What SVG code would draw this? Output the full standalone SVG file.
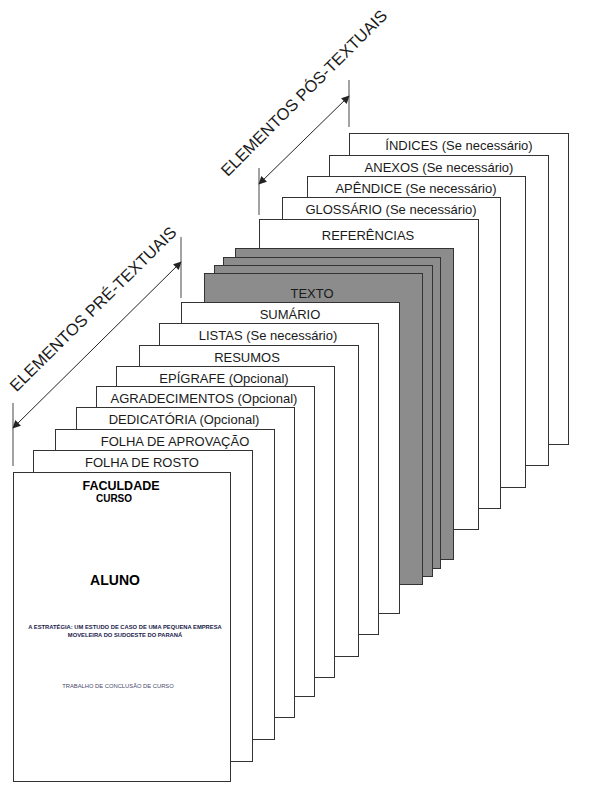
<svg xmlns="http://www.w3.org/2000/svg" width="604" height="793" viewBox="0 0 604 793">
<defs>
<style>
.pg{fill:#fff;stroke:#333;stroke-width:1}
.gr{fill:#8c8c8c;stroke:#333;stroke-width:1}
.lb{font-family:"Liberation Sans",Arial,sans-serif;font-size:13px;fill:#1a1a1a;text-anchor:middle}
.tk{stroke:#666;stroke-width:1.2;fill:none}
.ar{stroke:#222;stroke-width:1;fill:none;marker-start:url(#ah);marker-end:url(#ah)}
.big{font-family:"Liberation Sans",Arial,sans-serif;font-size:16.5px;fill:#1a1a1a;text-anchor:middle}
.ft{font-family:"Liberation Sans",Arial,sans-serif;font-weight:bold;fill:#000;text-anchor:middle}
</style>
<marker id="ah" viewBox="0 0 10 10" refX="9" refY="5" markerWidth="10" markerHeight="8" orient="auto-start-reverse" markerUnits="userSpaceOnUse"><path d="M0,0 L10,5 L0,10 z" fill="#222"/></marker>
</defs>
<g id="indices"><rect class="pg" x="349.5" y="133.5" width="219" height="311"/><text class="lb" x="459" y="150">ÍNDICES (Se necessário)</text></g>
<g id="anexos"><rect class="pg" x="329.5" y="155.5" width="219" height="310"/><text class="lb" x="439" y="172">ANEXOS (Se necessário)</text></g>
<g id="apendice"><rect class="pg" x="307.5" y="176.5" width="218" height="311"/><text class="lb" x="416" y="193">APÊNDICE (Se necessário)</text></g>
<g id="glossario"><rect class="pg" x="282.5" y="197.5" width="218" height="311"/><text class="lb" x="391" y="214">GLOSSÁRIO (Se necessário)</text></g>
<g id="referencias"><rect class="pg" x="259.5" y="219.5" width="219" height="310"/><text class="lb" x="368" y="240">REFERÊNCIAS</text></g>
<g id="gray1"><rect class="gr" x="235.5" y="248.5" width="218" height="311"/></g>
<g id="gray2"><rect class="gr" x="223.5" y="257.5" width="217" height="311"/></g>
<g id="gray3"><rect class="gr" x="214.5" y="265.5" width="218" height="311"/></g>
<g id="texto"><rect class="gr" x="204.5" y="273.5" width="218" height="311"/><text class="lb" x="312" y="298">TEXTO</text></g>
<g id="sumario"><rect class="pg" x="181.5" y="302.5" width="218" height="311"/><text class="lb" x="290" y="319">SUMÁRIO</text></g>
<g id="listas"><rect class="pg" x="159.5" y="323.5" width="219" height="311"/><text class="lb" x="268" y="340">LISTAS  (Se necessário)</text></g>
<g id="resumos"><rect class="pg" x="139.5" y="345.5" width="219" height="311"/><text class="lb" x="247" y="362">RESUMOS</text></g>
<g id="epigrafe"><rect class="pg" x="116.5" y="366.5" width="218" height="311"/><text class="lb" x="224" y="383">EPÍGRAFE (Opcional)</text></g>
<g id="agradecimentos"><rect class="pg" x="96.5" y="386.5" width="218" height="310"/><text class="lb" x="204" y="403">AGRADECIMENTOS (Opcional)</text></g>
<g id="dedicatoria"><rect class="pg" x="76.5" y="407.5" width="218" height="310"/><text class="lb" x="184" y="424">DEDICATÓRIA  (Opcional)</text></g>
<g id="aprovacao"><rect class="pg" x="55.5" y="429.5" width="219" height="310"/><text class="lb" x="175" y="446">FOLHA DE APROVAÇÃO</text></g>
<g id="rosto"><rect class="pg" x="33.5" y="450.5" width="219" height="311"/><text class="lb" x="142" y="467">FOLHA DE ROSTO</text></g>
<g id="capa"><rect class="pg" x="13.5" y="472.5" width="217" height="309"/>
<text class="ft" x="121" y="490" font-size="12.5">FACULDADE</text>
<text class="ft" x="114" y="502" font-size="10">CURSO</text>
<text class="ft" x="115" y="585" font-size="14">ALUNO</text>
<text class="ft" x="125" y="629" font-size="5.8" style="fill:#1a1a4a">A ESTRATÉGIA: UM ESTUDO DE CASO DE UMA PEQUENA EMPRESA</text>
<text class="ft" x="125" y="637" font-size="5.8" style="fill:#1a1a4a">MOVELEIRA DO SUDOESTE DO PARANÁ</text>
<text x="118" y="688" font-family="Liberation Sans,Arial,sans-serif" font-size="5.8" fill="#4a4a6a" text-anchor="middle">TRABALHO DE CONCLUSÃO DE CURSO</text>
</g>
<g id="connectors">
<line class="tk" x1="13" y1="403" x2="13" y2="466"/>
<line class="tk" x1="181" y1="237" x2="181" y2="298"/>
<line class="ar" x1="13" y1="428" x2="181" y2="262"/>
<line class="tk" x1="259" y1="168" x2="259" y2="215"/>
<line class="tk" x1="349" y1="80" x2="349" y2="127"/>
<line class="ar" x1="259" y1="184" x2="349" y2="96"/>
</g>
<text class="big" transform="translate(97,313) rotate(-44.6)">ELEMENTOS PRÉ-TEXTUAIS</text>
<text class="big" transform="translate(308,97) rotate(-45)">ELEMENTOS PÓS-TEXTUAIS</text>
</svg>
